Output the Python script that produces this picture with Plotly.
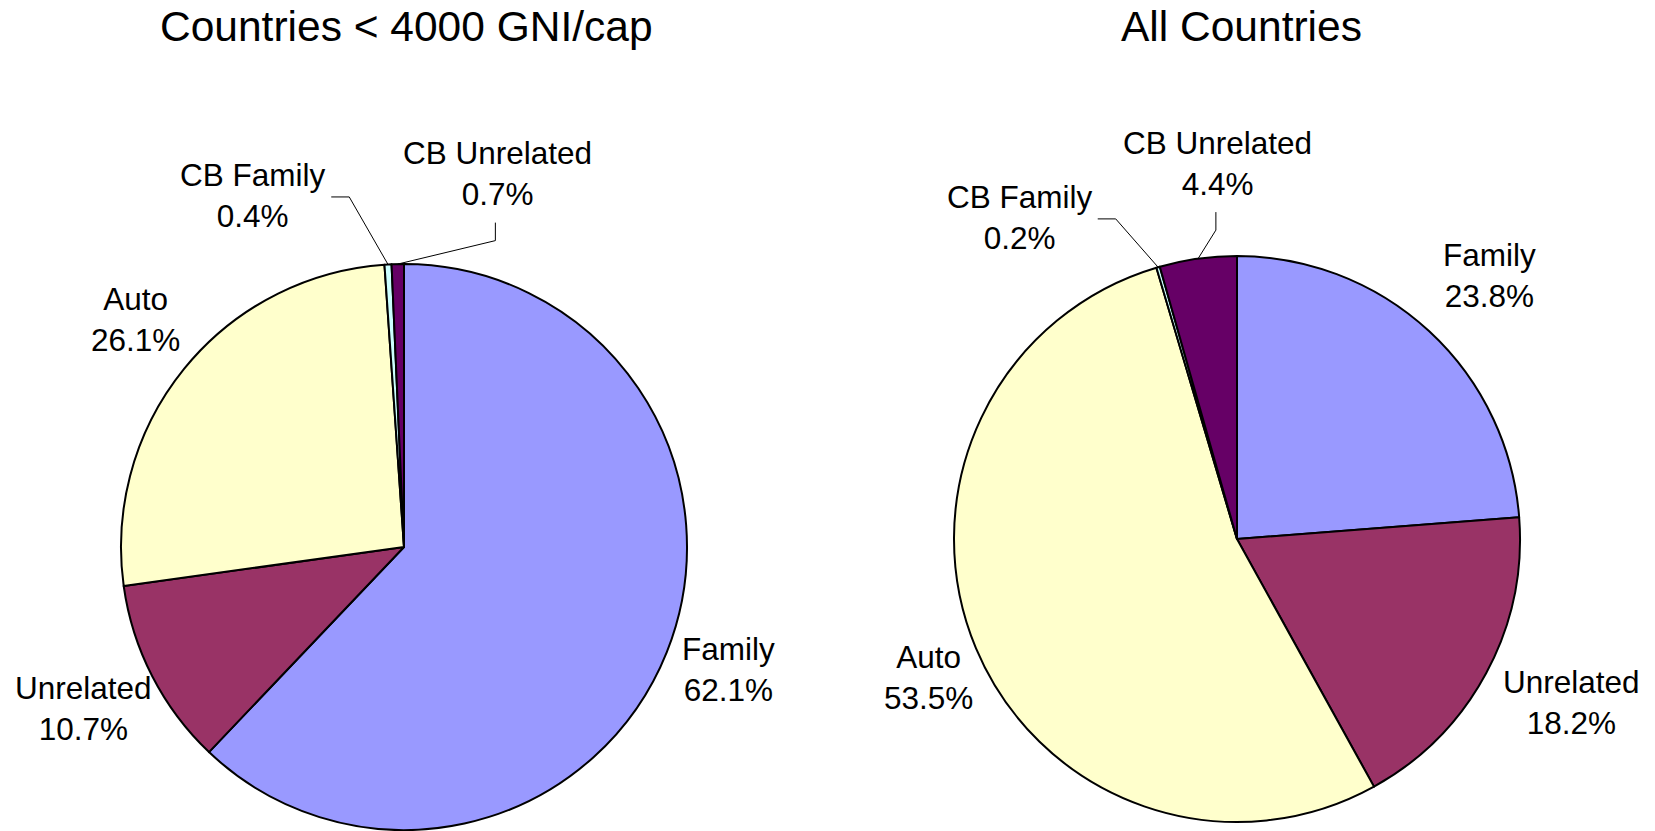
import math
import plotly.graph_objects as go

# ---------------- data ----------------
categories = ["Family", "Unrelated", "Auto", "CB Family", "CB Unrelated"]
low_income_pct = [62.1, 10.7, 26.1, 0.4, 0.7]
all_countries_pct = [23.8, 18.2, 53.5, 0.2, 4.4]
titles = ["Countries < 4000 GNI/cap", "All Countries"]

# ---------------- style / layout ----------------
colors = ["#9999FF", "#993366", "#FFFFCC", "#CCFFFF", "#660066"]
W, H = 1655, 831
FONT = "Arial, 'Liberation Sans', sans-serif"
LABEL_SIZE = 31.5
TITLE_SIZE = 42.5

pies = [
    dict(values=low_income_pct, title=titles[0], cx=404, cy=547, r=283, title_x=406,
         label_k=[1.225, 1.267, 1.242, 1.35, 1.36],
         label_nudge=[-1.0, 0.4, 1.2, -20.0, 15.3],
         leader=[None, None, None, "h", "v"]),
    dict(values=all_countries_pct, title=titles[1], cx=1237, cy=539, r=283, title_x=1241,
         label_k=[1.288, 1.316, 1.193, 1.37, 1.33],
         label_nudge=[1.0, -2.3, -1.4, -17.9, 5.0],
         leader=[None, None, None, "h", "v"]),
]


def px2paper(x, y):
    return x / W, 1 - y / H


fig = go.Figure()
annotations = []
shapes = []

for p in pies:
    cx, cy, r = p["cx"], p["cy"], p["r"]
    x0, y1 = px2paper(cx - r, cy - r)
    x1, y0 = px2paper(cx + r, cy + r)
    fig.add_trace(go.Pie(
        labels=categories,
        values=p["values"],
        sort=False,
        direction="clockwise",
        rotation=0,
        textinfo="none",
        marker=dict(colors=colors, line=dict(color="black", width=2)),
        domain=dict(x=[x0, x1], y=[max(y0, 0), min(y1, 1)]),
        showlegend=False,
        hovertemplate="%{label}: %{value}%<extra></extra>",
    ))

    tx, ty = px2paper(p["title_x"], 26.5)
    annotations.append(dict(text=p["title"], x=tx, y=ty, xref="paper", yref="paper",
                            xanchor="center", yanchor="middle", showarrow=False,
                            font=dict(family=FONT, size=TITLE_SIZE, color="black")))

    total = sum(p["values"])
    cum = 0.0
    for i, v in enumerate(p["values"]):
        mid = (cum + v / 2) / total * 360.0
        cum += v
        ang = math.radians(mid + p["label_nudge"][i])
        lx = cx + p["label_k"][i] * r * math.sin(ang)
        ly = cy - p["label_k"][i] * r * math.cos(ang)
        ax, ay = px2paper(lx, ly)
        annotations.append(dict(text=f"{categories[i]}<br>{v:.1f}%", x=ax, y=ay,
                                xref="paper", yref="paper", xanchor="center",
                                yanchor="middle", align="center", showarrow=False,
                                font=dict(family=FONT, size=LABEL_SIZE, color="black")))
        style = p["leader"][i]
        if style:
            ma = math.radians(mid)
            ex, ey = cx + r * math.sin(ma), cy - r * math.cos(ma)
            if style == "h":
                pts = [(lx + 78, ly + 1), (lx + 96, ly + 1), (ex, ey)]
            else:
                pts = [(lx - 2, ly + 49), (lx - 2, ly + 67), (ex, ey)]
            pp = [px2paper(a, b) for a, b in pts]
            path = "M {},{} L {},{} L {},{}".format(pp[0][0], pp[0][1], pp[1][0], pp[1][1],
                                                     pp[2][0], pp[2][1])
            shapes.append(dict(type="path", path=path, xref="paper", yref="paper",
                               line=dict(color="black", width=1)))

fig.update_layout(
    width=W, height=H,
    margin=dict(l=0, r=0, t=0, b=0),
    paper_bgcolor="white", plot_bgcolor="white",
    annotations=annotations, shapes=shapes,
    font=dict(family=FONT),
)

fig.write_html("out.html",
               config={"displayModeBar": False},
               post_script="document.body.style.margin='0';document.body.style.overflow='hidden';")
